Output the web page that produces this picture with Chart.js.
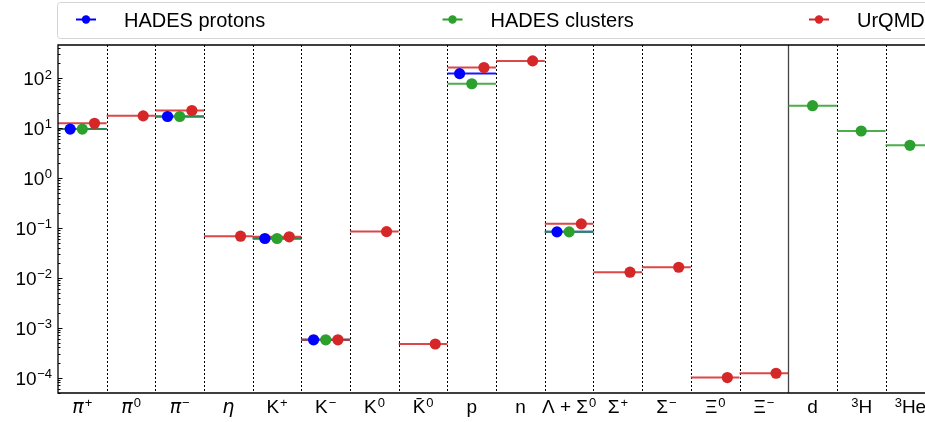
<!DOCTYPE html>
<html>
<head>
<meta charset="utf-8">
<script src="https://cdn.jsdelivr.net/npm/chart.js@4.4.0/dist/chart.umd.min.js"></script>
<style>
  html, body { margin: 0; padding: 0; background: #fff; overflow: hidden; }
</style>
</head>
<body>
<canvas id="yields" width="925" height="422"></canvas>
<script>
// particle species along the x axis
const categories = ['π⁺', 'π⁰', 'π⁻', 'η', 'K⁺', 'K⁻', 'K⁰', 'K\u0304⁰', 'p', 'n',
  'Λ + Σ⁰', 'Σ⁺', 'Σ⁻', 'Ξ⁰', 'Ξ⁻', 'd', '³H', '³He'];

// multiplicities per species (null = not measured / not given)
const hadesProtons = [9.5, null, 17, null, 0.061, 5.7e-4, null, null, 123, null,
  0.083, null, null, null, null, null, null, null];
const hadesClusters = [9.5, null, 17, null, 0.061, 5.7e-4, null, null, 77, null,
  0.083, null, null, null, null, 28, 8.7, 4.5];
const urqmd = [12.4, 17.5, 22.4, 0.068, 0.066, 5.7e-4, 0.084, 4.7e-4, 163, 221,
  0.12, 0.0129, 0.0162, 1.0e-4, 1.22e-4, null, null, null];

// decade exponents labelled on the y axis
const decades = [-4, -3, -2, -1, 0, 1, 2];

const series = [
  { label: 'HADES protons', values: hadesProtons, color: '#0000ff', line: 'rgba(0,0,255,0.9)', offset: 0.25 },
  { label: 'HADES clusters', values: hadesClusters, color: '#2ca02c', line: 'rgba(44,160,44,0.85)', offset: 0.5 },
  { label: 'UrQMD', values: urqmd, color: '#d62728', line: 'rgba(214,39,40,0.85)', offset: 0.75 }
];

const datasets = [];
series.forEach((s, k) => {
  const steps = [];
  const dots = [];
  s.values.forEach((v, i) => {
    if (v === null) return;
    steps.push({ x: i, y: v }, { x: i + 1, y: v }, { x: i + 1, y: null });
    dots.push({ x: i + s.offset, y: v });
  });
  datasets.push({
    label: s.label + ' line', data: steps, showLine: true, spanGaps: false,
    borderColor: s.line, borderWidth: 2, pointRadius: 0, order: 10 - k
  });
  datasets.push({
    label: s.label, data: dots, showLine: false,
    backgroundColor: s.color, borderColor: s.color, borderWidth: 0,
    pointRadius: 5.6, pointHoverRadius: 5.6, order: 5 - k
  });
});

const SUP = { '⁺': '+', '⁻': '−', '⁰': '0', '¹': '1', '²': '2', '³': '3', '⁴': '4' };
const TEXT_FONT = '"Liberation Sans", Arial, sans-serif';

function runsOf(text) {
  const runs = [];
  for (const ch of Array.from(text)) {
    let type = 'reg', c = ch;
    if (SUP[ch]) { type = 'sup'; c = SUP[ch]; }
    else if (ch === 'π' || ch === 'η') type = 'ital';
    else if (ch === '\u0304' && runs.length) { runs[runs.length - 1].t += ch; continue; }
    const last = runs[runs.length - 1];
    if (last && last.type === type) last.t += c; else runs.push({ type, t: c });
  }
  return runs;
}

function fontFor(type, size) {
  if (type === 'sup') return `${Math.round(size * 0.68)}px ${TEXT_FONT}`;
  if (type === 'ital') return `italic ${size}px "DejaVu Sans"`;
  return `${size}px ${TEXT_FONT}`;
}

function drawRich(ctx, text, x, y, size) {
  const runs = runsOf(text);
  let w = 0;
  runs.forEach(r => {
    ctx.font = fontFor(r.type, size);
    r.w = ctx.measureText(r.t).width + (r.type === 'sup' ? 1 : 0);
    w += r.w;
  });
  let cx = x - w / 2;
  ctx.textAlign = 'left';
  ctx.textBaseline = 'alphabetic';
  runs.forEach(r => {
    ctx.font = fontFor(r.type, size);
    ctx.fillText(r.t, cx + (r.type === 'sup' ? 1 : 0), r.type === 'sup' ? y - size * 0.3 : y);
    cx += r.w;
  });
}

const decor = {
  id: 'decor',
  beforeDatasetsDraw(chart) {
    const { ctx, chartArea: a, scales: { x } } = chart;
    ctx.save();
    for (let i = 1; i < categories.length; i++) {
      const px = Math.round(x.getPixelForValue(i)) + 0.5;
      ctx.beginPath();
      if (i === 15) {
        ctx.setLineDash([]);
        ctx.strokeStyle = '#444';
        ctx.lineWidth = 1.3;
      } else {
        ctx.setLineDash([2, 2]);
        ctx.strokeStyle = '#000';
        ctx.lineWidth = 1;
      }
      ctx.moveTo(px, a.top);
      ctx.lineTo(px, a.bottom);
      ctx.stroke();
    }
    ctx.restore();
  },
  afterDraw(chart) {
    const { ctx, chartArea: a, scales: { x, y } } = chart;
    ctx.save();
    // spines
    ctx.strokeStyle = '#000';
    ctx.lineWidth = 1.3;
    ctx.beginPath();
    ctx.moveTo(a.right + 5, a.top); ctx.lineTo(a.left, a.top);
    ctx.lineTo(a.left, a.bottom); ctx.lineTo(a.right + 5, a.bottom);
    ctx.stroke();

    // inward log ticks
    ctx.lineWidth = 1;
    for (let e = -5; e <= 2; e++) {
      for (let k = 1; k <= 9; k++) {
        const v = k * Math.pow(10, e);
        if (v < y.min || v > y.max) continue;
        const py = Math.round(y.getPixelForValue(v)) + 0.5;
        const len = k === 1 ? 4.5 : 2.5;
        ctx.beginPath();
        ctx.moveTo(a.left, py);
        ctx.lineTo(a.left + len, py);
        ctx.stroke();
      }
    }

    // y labels
    ctx.fillStyle = '#000';
    decades.forEach(d => {
      const py = y.getPixelForValue(Math.pow(10, d));
      const exp = String(d).replace('-', '−');
      ctx.font = `13px ${TEXT_FONT}`;
      ctx.textAlign = 'right';
      ctx.textBaseline = 'alphabetic';
      ctx.fillText(exp, 52, py + 0.5);
      const ew = ctx.measureText(exp).width;
      ctx.font = `19px ${TEXT_FONT}`;
      ctx.fillText('10', 52 - ew - 0.5, py + 7);
    });

    // x labels
    categories.forEach((c, i) => {
      drawRich(ctx, c, x.getPixelForValue(i + 0.5), 413, 19);
    });

    // legend
    ctx.fillStyle = 'rgba(255,255,255,0.85)';
    ctx.strokeStyle = '#d4d4d4';
    ctx.lineWidth = 1;
    ctx.beginPath();
    ctx.roundRect(57.5, 2.5, 940, 36, 3);
    ctx.fill();
    ctx.stroke();
    series.forEach((s, k) => {
      const cx = 86 + 366.5 * k;
      ctx.strokeStyle = s.color;
      ctx.lineWidth = 2;
      ctx.beginPath();
      ctx.moveTo(cx - 10, 19.5); ctx.lineTo(cx + 10, 19.5);
      ctx.stroke();
      ctx.fillStyle = s.color;
      ctx.beginPath();
      ctx.arc(cx, 19.5, 4.2, 0, Math.PI * 2);
      ctx.fill();
      ctx.fillStyle = '#000';
      ctx.font = `20px ${TEXT_FONT}`;
      ctx.textAlign = 'left';
      ctx.textBaseline = 'alphabetic';
      ctx.fillText(s.label, cx + 38, 27);
    });
    ctx.restore();
  }
};

new Chart(document.getElementById('yields'), {
  type: 'scatter',
  data: { datasets },
  options: {
    responsive: false,
    animation: false,
    devicePixelRatio: 1,
    layout: { autoPadding: false, padding: { top: 45, left: 0, right: 0, bottom: 0 } },
    plugins: { legend: { display: false }, tooltip: { enabled: false } },
    scales: {
      x: {
        type: 'linear', min: 0, max: 17.81,
        grid: { display: false }, border: { display: false },
        ticks: { display: false },
        afterFit: s => { s.height = 29; }
      },
      y: {
        type: 'logarithmic', min: 4.9e-5, max: 4.6e2,
        grid: { display: false }, border: { display: false },
        ticks: { display: false },
        afterFit: s => { s.width = 58; }
      }
    }
  },
  plugins: [decor]
});
</script>
</body>
</html>
